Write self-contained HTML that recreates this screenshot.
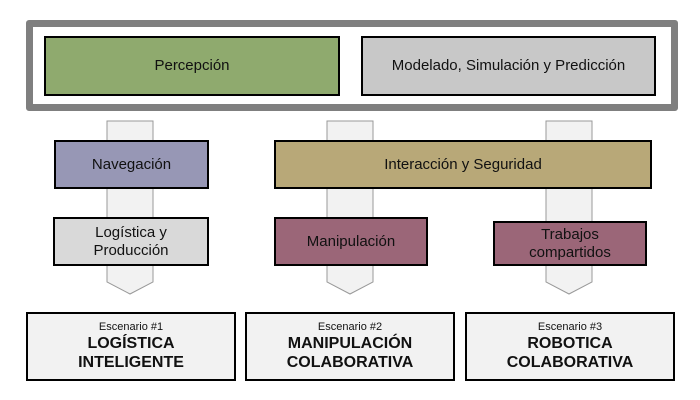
<!DOCTYPE html>
<html><head><meta charset="utf-8"><style>
body{margin:0;width:700px;height:400px;background:#fff;overflow:hidden;font-family:"Liberation Sans",sans-serif}
.b{position:absolute;box-sizing:border-box;border:2px solid #000;display:flex;align-items:center;justify-content:center;text-align:center;font-size:15px;color:#111;line-height:18px}
.s{flex-direction:column;background:#f2f2f2;font-weight:bold;font-size:16px;line-height:19px}
.s small{font-weight:normal;font-size:11px;line-height:13px}
</style></head><body>
<div style="position:absolute;left:26px;top:20px;width:652px;height:91px;box-sizing:border-box;border:7px solid #7f7f7f;border-radius:3px"></div>
<svg width="700" height="400" style="position:absolute;left:0;top:0">
<g fill="#f2f2f2" stroke="#999" stroke-width="1">
<path d="M107 121H153V282L130 294L107 282Z"/>
<path d="M327 121H373V282L350 294L327 282Z"/>
<path d="M546 121H592V282L569 294L546 282Z"/>
</g></svg>
<div class="b" style="left:44px;top:36px;width:296px;height:60px;background:#8faa6e">Percepción</div>
<div class="b" style="left:361px;top:36px;width:295px;height:60px;background:#c8c8c8">Modelado, Simulación y Predicción</div>
<div class="b" style="left:54px;top:140px;width:155px;height:49px;background:#9797b5">Navegación</div>
<div class="b" style="left:274px;top:140px;width:378px;height:49px;background:#b8a878">Interacción y Seguridad</div>
<div class="b" style="left:53px;top:217px;width:156px;height:49px;background:#d9d9d9">Logística y<br>Producción</div>
<div class="b" style="left:274px;top:217px;width:154px;height:49px;background:#9b6678">Manipulación</div>
<div class="b" style="left:493px;top:221px;width:154px;height:45px;background:#9b6678">Trabajos<br>compartidos</div>
<div class="b s" style="left:26px;top:312px;width:210px;height:69px"><small>Escenario #1</small>LOGÍSTICA<br>INTELIGENTE</div>
<div class="b s" style="left:245px;top:312px;width:210px;height:69px"><small>Escenario #2</small>MANIPULACIÓN<br>COLABORATIVA</div>
<div class="b s" style="left:465px;top:312px;width:210px;height:69px"><small>Escenario #3</small>ROBOTICA<br>COLABORATIVA</div>
</body></html>
